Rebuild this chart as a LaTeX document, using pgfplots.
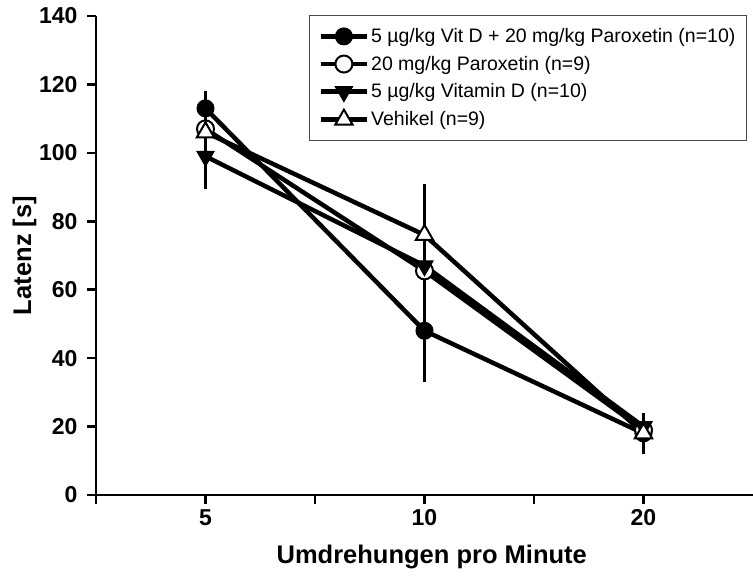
\documentclass[border=0pt]{standalone}
\usepackage{fontspec}
\setmainfont{Liberation Sans}
\usepackage{pgfplots}
\pgfplotsset{compat=1.18}
\begin{document}
\begin{tikzpicture}
\begin{axis}[
  at={(0,0)}, anchor=south west,
  scale only axis, width=657pt, height=479pt,
  xmin=0.5, xmax=3.5, ymin=0, ymax=140,
  axis lines=left,
  axis line style={-, line width=2.7pt, black},
  xtick={0.5,1,1.5,2,2.5,3}, xticklabels={,5,,10,,20},
  ytick={0,20,40,60,80,100,120,140},
  tick align=outside,
  major tick length=9pt,
  tick style={line width=2.7pt, black},
  /pgf/number format/assume math mode=true,
  ticklabel style={font=\fontsize{23}{27}\selectfont\bfseries},
  yticklabel style={xshift=-6pt},
  xticklabel style={yshift=-2pt},
  label style={font=\fontsize{25.5}{30}\selectfont\bfseries},
  xlabel={Umdrehungen pro Minute},
  ylabel={Latenz [s]},
  xlabel style={at={(axis description cs:0.511,-0.13)}, anchor=center, inner sep=0pt},
  ylabel style={at={(axis description cs:-0.1088,0.5)}, anchor=center, inner sep=0pt},
  clip=false,
  legend cell align=left,
  legend style={at={(axis description cs:1,1)}, anchor=north east, xshift=-6pt, yshift=1pt,
    draw=gray!60!black, line width=1.2pt, fill=white,
    font=\fontsize{19.5}{23}\selectfont,
    inner xsep=9pt, inner ysep=11pt, row sep=8pt,
    nodes={inner sep=2pt}},
  legend image code/.code={\draw[mark repeat=2,mark phase=2,#1] plot coordinates {(0pt,0pt) (23pt,0pt) (46pt,0pt)};},
  error bars/error bar style={line width=3pt, black},
]
\addplot[black, line width=4.5pt, mark=*, mark size=8.5pt, mark options={fill=black, line width=1pt},
  error bars/.cd, y dir=both, y explicit, error mark=none]
  coordinates {(1,113) +- (0,5) (2,48) +- (0,15) (3,18) +- (0,4)};
\addlegendentry{5 µg/kg Vit D + 20 mg/kg Paroxetin (n=10)}
\addplot[black, line width=4.5pt, mark=*, mark size=8.5pt, mark options={fill=white, line width=2pt},
  error bars/.cd, y dir=both, y explicit, error mark=none]
  coordinates {(1,107) +- (0,5) (2,65.5) +- (0,8) (3,19) +- (0,3)};
\addlegendentry{20 mg/kg Paroxetin (n=9)}
\addplot[black, line width=4.5pt, mark=triangle*, mark size=10pt, mark options={fill=black, rotate=180, line width=1pt},
  error bars/.cd, y dir=both, y explicit, error mark=none]
  coordinates {(1,99) +- (0,9.5) (2,67) +- (0,10) (3,20) +- (0,4)};
\addlegendentry{5 µg/kg Vitamin D (n=10)}
\addplot[black, line width=4.5pt, mark=triangle*, mark size=10pt, mark options={fill=white, line width=2pt},
  error bars/.cd, y dir=both, y explicit, error mark=none]
  coordinates {(1,106) +- (0,6) (2,76) +- (0,15) (3,18) +- (0,6)};
\addlegendentry{Vehikel (n=9)}
\end{axis}
\pgfresetboundingbox
\path (-96pt,-83pt) rectangle (657pt,495pt);
\end{tikzpicture}
\end{document}
